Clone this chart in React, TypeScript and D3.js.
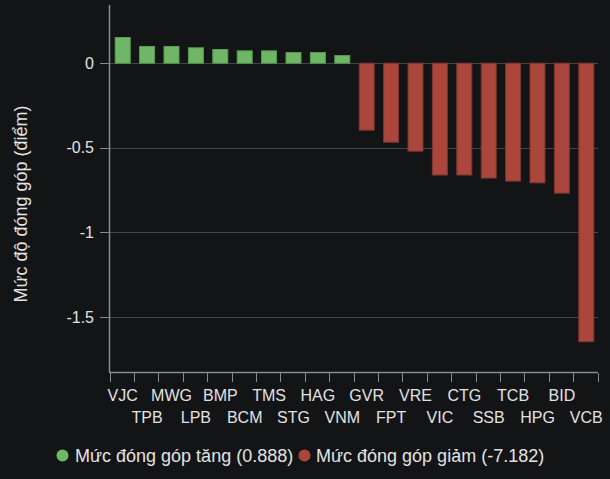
import React from "react";
import * as d3 from "d3";

const categories = ["VJC","TPB","MWG","LPB","BMP","BCM","TMS","STG","HAG","VNM","GVR","FPT","VRE","VIC","CTG","SSB","TCB","HPG","BID","VCB"];
const values = [0.152,0.099,0.099,0.091,0.081,0.073,0.073,0.063,0.063,0.045,-0.396,-0.467,-0.52,-0.661,-0.661,-0.679,-0.697,-0.707,-0.768,-1.646];
const yTicks = [0,-0.5,-1,-1.5];
const yTickLabels = ["0","-0.5","-1","-1.5"];
const legendLabels = ["Mức đóng góp tăng (0.888)","Mức đóng góp giảm (-7.182)"];
const yTitle = "Mức độ đóng góp (điểm)";

const W = 610, H = 479;
const BG = "#131416";
const GREEN = "#6fb766";
const RED = "#ab463c";
const FONT = "'Liberation Sans', Arial, sans-serif";

export default function App() {
  const x = d3.scaleBand<string>().domain(categories).range([110.5, 598.5]).paddingInner(0.385).paddingOuter(0.1925);
  const y = d3.scaleLinear().domain([-1.825, 0.344]).range([372, 5]);
  const x0 = 109.5;
  const boundaries = d3.range(categories.length + 1).map((i) => x0 + i * (488 / categories.length));
  return (
    <div style={{ position: "absolute", left: 0, top: 0, width: W, height: H, background: BG }}>
      <svg width={W} height={H} style={{ display: "block", fontFamily: FONT }}>
        <rect width={W} height={H} fill={BG} />
        {yTicks.map((t, i) => (
          <g key={i}>
            <line x1={110} x2={598} y1={Math.round(y(t)) + 0.5} y2={Math.round(y(t)) + 0.5} stroke="#444446" strokeWidth={1} />
            <line x1={100} x2={109} y1={Math.round(y(t)) + 0.5} y2={Math.round(y(t)) + 0.5} stroke="#8a8a8a" strokeWidth={1} />
            <text x={94} y={y(t) + 5.5} textAnchor="end" fontSize={16} fill="#e2e2e2">{yTickLabels[i]}</text>
          </g>
        ))}
        {categories.map((c, i) => {
          const v = values[i];
          const top = y(Math.max(0, v));
          const bot = y(Math.min(0, v));
          return (
            <rect key={c} x={x(c)} y={top} width={x.bandwidth()} height={bot - top}
              fill={v >= 0 ? GREEN : RED} stroke={v >= 0 ? "#5a9a53" : "#7d342d"} strokeWidth={1} />
          );
        })}
        <line x1={109.5} x2={109.5} y1={5} y2={372} stroke="#8a8a8a" strokeWidth={1.5} />
        <line x1={109} x2={598} y1={372.5} y2={372.5} stroke="#8a8a8a" strokeWidth={1.5} />
        {boundaries.map((bx, i) => (
          <line key={i} x1={Math.round(bx) + 0.5} x2={Math.round(bx) + 0.5} y1={373} y2={382} stroke="#8a8a8a" strokeWidth={1} />
        ))}
        {categories.map((c, i) => (
          <text key={c} x={(x(c) as number) + x.bandwidth() / 2} y={i % 2 === 0 ? 401 : 423} textAnchor="middle" fontSize={16} fill="#e2e2e2">{c}</text>
        ))}
        <text transform={`translate(27,204) rotate(-90)`} textAnchor="middle" fontSize={18} fill="#e2e2e2">{yTitle}</text>
        <circle cx={62.5} cy={455.5} r={6} fill={GREEN} />
        <text x={75} y={461.5} fontSize={18} fill="#e2e2e2">{legendLabels[0]}</text>
        <circle cx={304.5} cy={455.5} r={6} fill={RED} />
        <text x={316} y={461.5} fontSize={18} fill="#e2e2e2">{legendLabels[1]}</text>
      </svg>
    </div>
  );
}
